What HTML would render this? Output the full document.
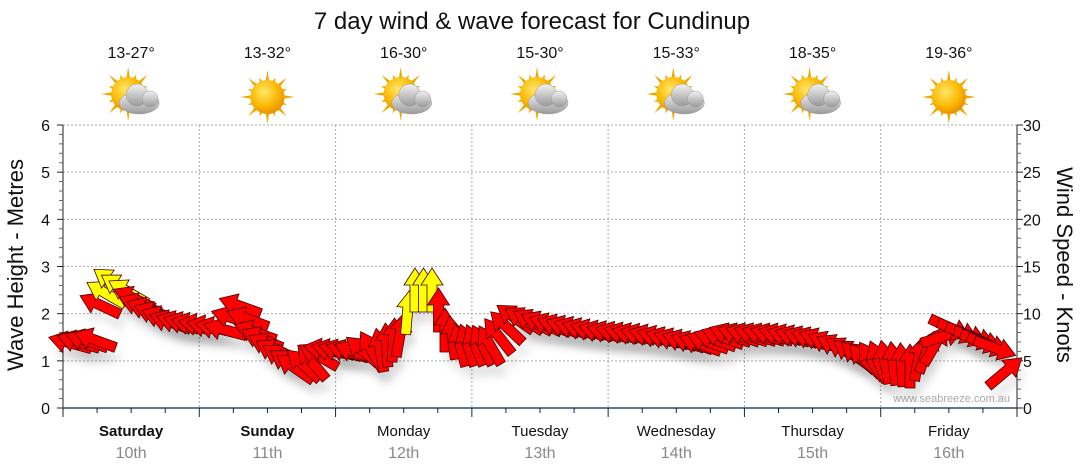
<!DOCTYPE html>
<html><head><meta charset="utf-8"><style>
html,body{margin:0;padding:0;background:#fff;}
svg{display:block;font-family:"Liberation Sans","DejaVu Sans",sans-serif;}
</style></head><body>
<svg id="s" width="1080" height="475" viewBox="0 0 1080 475" xmlns="http://www.w3.org/2000/svg">
<defs>
<radialGradient id="sun" cx="0.4" cy="0.35" r="0.7"><stop offset="0" stop-color="#ffe66a"/><stop offset="0.6" stop-color="#f9b800"/><stop offset="1" stop-color="#e88a00"/></radialGradient>
<linearGradient id="cl" x1="0" y1="0" x2="0" y2="1"><stop offset="0" stop-color="#f2f2f2"/><stop offset="1" stop-color="#9a9a9a"/></linearGradient>
<filter id="sh" x="-30%" y="-30%" width="160%" height="160%"><feGaussianBlur stdDeviation="4"/></filter>
</defs>
<text x="532" y="29" font-size="24" text-anchor="middle" fill="#111">7 day wind &amp; wave forecast for Cundinup</text>
<g id="g"></g>
</svg>
<script>
const g=document.getElementById('g');let h='';
const X0=63,X1=1017,Y0=408,YT=125,DW=(X1-X0)/7,MS=(Y0-YT)/6;
for(let k=1;k<=6;k++){const y=Y0-k*MS;h+=`<line x1="${X0}" x2="${X1}" y1="${y}" y2="${y}" stroke="#aaa" stroke-dasharray="2,2"/>`;}
for(let d=1;d<7;d++){const x=X0+d*DW;h+=`<line x1="${x}" x2="${x}" y1="${YT}" y2="${Y0}" stroke="#aaa" stroke-dasharray="2,2"/>`;}
h+=`<line x1="${X0}" x2="${X0}" y1="${YT}" y2="${Y0}" stroke="#222"/>`;
for(let k=0;k<=6;k++){const y=Y0-k*MS;h+=`<line x1="${X0-6}" x2="${X0}" y1="${y}" y2="${y}" stroke="#222"/><text x="50" y="${y+6}" font-size="16" text-anchor="end" fill="#111">${k}</text>`;}
for(let k=0;k<30;k++){if(k%5){const y=Y0-k*MS/5;h+=`<line x1="${X0-4}" x2="${X0}" y1="${y}" y2="${y}" stroke="#666"/>`;}}
h+=`<line x1="${X1}" x2="${X1}" y1="${YT}" y2="${Y0}" stroke="#222"/>`;
for(let k=0;k<=30;k++){const y=Y0-k*MS/5;if(k%5==0)h+=`<line x1="${X1}" x2="${X1+6}" y1="${y}" y2="${y}" stroke="#222"/><text x="1023" y="${y+6}" font-size="16" fill="#111">${k}</text>`;else h+=`<line x1="${X1}" x2="${X1+4}" y1="${y}" y2="${y}" stroke="#666"/>`;}
h+=`<line x1="${X0}" x2="${X1}" y1="${Y0}" y2="${Y0}" stroke="#1f4e79" stroke-width="1.5"/>`;
for(let k=0;k<=56;k++){const x=X0+k*DW/8;const big=k%8==0;if(k%2==0||big)h+=`<line x1="${x}" x2="${x}" y1="${Y0}" y2="${Y0+(big?9:5)}" stroke="#222"/>`;}
const days=['Saturday','Sunday','Monday','Tuesday','Wednesday','Thursday','Friday'];
const temps=['13-27°','13-32°','16-30°','15-30°','15-33°','18-35°','19-36°'];
const cloud=[1,0,1,1,1,1,0];
for(let d=0;d<7;d++){const cx=X0+(d+0.5)*DW;
h+=`<text x="${cx}" y="436" font-size="15" text-anchor="middle" fill="#111" ${d<2?'font-weight="bold"':''}>${days[d]}</text>`;
h+=`<text x="${cx}" y="458" font-size="16" text-anchor="middle" fill="#888">${10+d}th</text>`;
h+=`<text x="${cx}" y="58" font-size="16" text-anchor="middle" fill="#111">${temps[d]}</text>`;
const sx=cloud[d]?cx-3:cx,sy=cloud[d]?94:97;
for(let r=0;r<16;r++){const a=r*Math.PI/8,L=r%2?21:27;h+=`<polygon points="${sx+Math.cos(a)*L},${sy+Math.sin(a)*L} ${sx+Math.cos(a+0.13)*15},${sy+Math.sin(a+0.13)*15} ${sx+Math.cos(a-0.13)*15},${sy+Math.sin(a-0.13)*15}" fill="#f0a800"/>`;}
h+=`<circle cx="${sx}" cy="${sy}" r="17" fill="url(#sun)"/>`;
if(cloud[d])h+=`<g fill="url(#cl)" stroke="#999" stroke-width="0.5"><ellipse cx="${cx+8}" cy="${sy+9}" rx="20" ry="11"/><circle cx="${cx+6}" cy="${sy+1}" r="11"/><circle cx="${cx+19}" cy="${sy+5}" r="8"/></g>`;
}
h+=`<text x="15" y="265" font-size="22" text-anchor="middle" fill="#111" transform="rotate(-90 15 265)" dy="8">Wave Height - Metres</text>`;
h+=`<text x="1065" y="265" font-size="22" text-anchor="middle" fill="#111" transform="rotate(90 1065 265)" dy="8">Wind Speed - Knots</text>`;
h+=`<text x="1010" y="402" font-size="11" text-anchor="end" fill="#aaa">www.seabreeze.com.au</text>`;
const K=[[70,343,195,0],[95,340,200,0],[100,305,205,0],[112,282,215,1],[128,292,210,1],[140,305,200,0],[170,322,200,0],[200,325,190,0],[225,330,195,0],[240,306,200,0],[255,332,200,0],[275,352,210,0],[295,368,215,0],[312,362,230,0],[325,350,190,0],[355,352,200,0],[380,350,260,0],[400,335,280,0],[415,290,270,1],[432,290,270,1],[445,330,270,0],[460,345,255,0],[490,345,240,0],[515,318,215,0],[550,325,200,0],[600,332,195,0],[650,336,195,0],[700,344,200,0],[730,335,200,0],[780,335,195,0],[820,340,200,0],[845,350,210,0],[865,360,225,0],[885,362,260,0],[910,366,270,0],[935,345,300,0],[950,328,385,0],[975,338,380,0],[995,348,380,0],[1005,372,320,0]];
const pts=[];
for(let i=0;i<K.length-1;i++){const a=K[i],b=K[i+1];let da=((b[2]-a[2])%360+540)%360-180;const n=Math.max(1,Math.round((b[0]-a[0])/8));for(let j=0;j<n;j++){const t=j/n;pts.push([a[0]+t*(b[0]-a[0]),a[1]+t*(b[1]-a[1]),a[2]+t*da,t<0.5?a[3]:b[3]]);}}
pts.push(K[K.length-1]);
const shape="-22,-5 5,-5 5,-11 22,0 5,11 5,5 -22,5";
let sh='',ar='';
pts.forEach(p=>{sh+=`<polygon points="${shape}" transform="translate(${p[0]+4},${p[1]+12}) rotate(${p[2]})" fill="#000" opacity="0.08"/>`;
ar+=`<polygon points="${shape}" transform="translate(${p[0]},${p[1]}) rotate(${p[2]})" fill="${p[3]?'#ffff00':'#ff0000'}" stroke="#4a0000" stroke-width="0.8"/>`;});
h+=`<g filter="url(#sh)">${sh}</g>`+ar;
g.innerHTML=h;
</script>
</body></html>
